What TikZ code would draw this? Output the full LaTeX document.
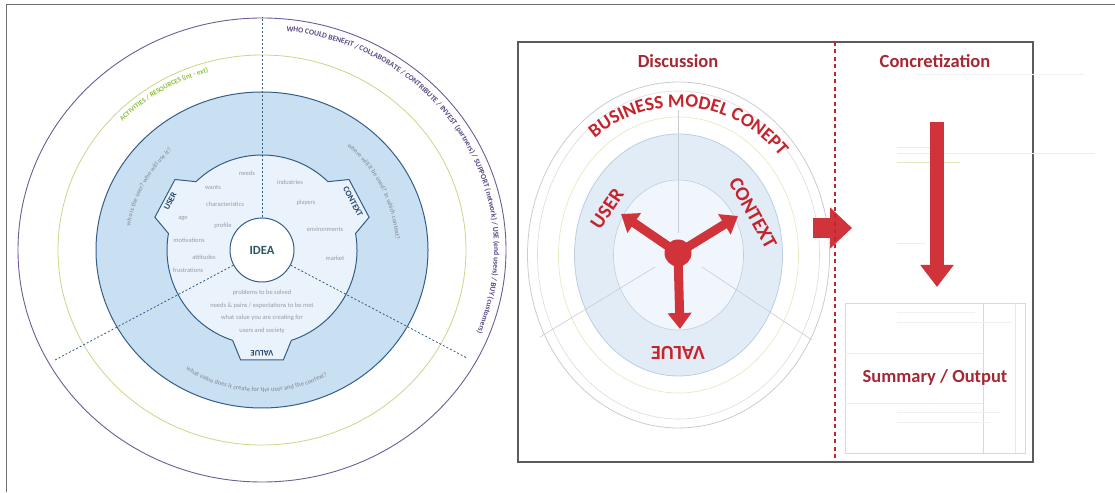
\documentclass[tikz,border=0pt]{standalone}
\usepackage{fontspec}
\setmainfont{Carlito}
\usetikzlibrary{calc,arrows.meta,decorations.text}
\definecolor{bandblue}{RGB}{201,224,243}
\definecolor{blobblue}{RGB}{234,242,251}
\definecolor{ringblue}{RGB}{52,94,135}
\definecolor{lbldark}{RGB}{40,70,110}
\definecolor{purplering}{RGB}{112,92,150}
\definecolor{purpletext}{RGB}{92,72,132}
\definecolor{greenring}{RGB}{200,216,135}
\definecolor{greentext}{RGB}{140,190,60}
\definecolor{wordgray}{RGB}{150,156,166}
\definecolor{arcgray}{RGB}{150,158,172}
\definecolor{ideateal}{RGB}{40,88,100}
\definecolor{framegray}{RGB}{110,110,110}
\definecolor{panelgray}{RGB}{90,90,95}
\definecolor{rgray}{RGB}{200,205,212}
\definecolor{rgreen}{RGB}{225,232,190}
\definecolor{rblue}{RGB}{226,236,247}
\definecolor{rblueborder}{RGB}{188,206,225}
\definecolor{rblob}{RGB}{241,246,252}
\definecolor{bmcred}{RGB}{198,36,44}
\definecolor{arrowred}{RGB}{208,52,58}
\definecolor{headred}{RGB}{165,40,52}
\tikzset{
  dashline/.style={ringblue, line width=0.8pt, dash pattern=on 2pt off 2pt},
  word/.style={font=\fontsize{6.5}{7}\selectfont, text=wordgray, inner sep=0pt},
  smalllbl/.style={font=\fontsize{8.5}{9}\selectfont\bfseries, text=lbldark, inner sep=0pt},
  bigred/.style={font=\fontsize{20}{20}\selectfont\bfseries, text=bmcred, inner sep=0pt},
  headtxt/.style={font=\fontsize{18.5}{20}\selectfont\bfseries, text=headred, inner sep=0pt},
  redarrow/.style={arrowred, line width=9pt, -{Triangle[width=23pt,length=16pt]}},
  faint/.style={gray!15, line width=0.6pt},
}
\begin{document}
\begin{tikzpicture}[x=1pt,y=1pt]
\useasboundingbox (0,0) rectangle (1115,492);
\fill[white] (0,0) rectangle (1115,492);
% outer frame lines
\draw[framegray, line width=1pt] (6,0) -- (6,487) -- (1115,487);

% ================= LEFT CANVAS =================
\coordinate (C) at (262,242);
\draw[purplering, line width=0.9pt] (C) ellipse [x radius=244pt, y radius=232pt];
\draw[greenring, line width=0.8pt] (C) ellipse [x radius=204pt, y radius=195pt];
\filldraw[fill=bandblue, draw=ringblue, line width=1pt] (C) ellipse [x radius=166pt, y radius=158pt];

% ring texts
\path[decorate, decoration={text along path, text={|\fontsize{7.6}{8}\selectfont\bfseries\color{purpletext}|WHO COULD BENEFIT / COLLABORATE / CONTRIBUTE / INVEST (partners) / SUPPORT (network) / USE (end users) / BUY (customers)}}]
  ($(C)+(84:232pt and 220pt)$) arc [start angle=84, end angle=-45, x radius=232pt, y radius=220pt];
\path[decorate, decoration={text along path, text={|\fontsize{7}{7}\selectfont\bfseries\color{greentext}|ACTIVITIES / RESOURCES (int - ext)}}]
  ($(C)+(136:194pt and 185pt)$) arc [start angle=136, end angle=92, x radius=194pt, y radius=185pt];

% gray curved texts in the blue band
\path[decorate, decoration={text along path, text align=center, text={|\fontsize{6.5}{6.5}\selectfont\bfseries\color{arcgray}|who is the user? who will use it?}}]
  ($(C)+(178:134pt)$) arc [start angle=178, end angle=124, radius=134pt];
\path[decorate, decoration={text along path, text align=center, text={|\fontsize{6.5}{6.5}\selectfont\bfseries\color{arcgray}|where will it be used? in which context?}}]
  ($(C)+(66:134pt)$) arc [start angle=66, end angle=-11, radius=134pt];
\path[decorate, decoration={text along path, text align=center, text={|\fontsize{6.5}{6.5}\selectfont\bfseries\color{arcgray}|what value does it create for the user and the context?}}]
  ($(C)+(228:142pt)$) arc [start angle=228, end angle=307, radius=142pt];

% inner blob with three notches
\filldraw[fill=blobblue, draw=ringblue, line width=1pt]
  ($(C)+(10:95pt)$) -- ($(C)+(17:112pt)$) -- ($(C)+(39:112pt)$) -- ($(C)+(46:95pt)$)
  arc [start angle=46, end angle=134, radius=95pt]
  -- ($(C)+(141:112pt)$) -- ($(C)+(163:112pt)$) -- ($(C)+(170:95pt)$)
  arc [start angle=170, end angle=252, radius=95pt]
  -- ($(C)+(259:112pt)$) -- ($(C)+(281:112pt)$) -- ($(C)+(288:95pt)$)
  arc [start angle=288, end angle=370, radius=95pt] -- cycle;

% section words
\node[word] (w1) at (247,319) {needs};
\node[word] (w2) at (213,305) {wants};
\node[word] (w3) at (225,288) {characteristics};
\node[word] (w4) at (183,274) {age};
\node[word] (w5) at (223,266) {profile};
\node[word] (w6) at (189,252) {motivations};
\node[word] (w7) at (204,235) {attitudes};
\node[word] (w8) at (188,222) {frustrations};
\node[word] (c1) at (290,310) {industries};
\node[word] (c2) at (306,289) {players};
\node[word] (c3) at (325,263) {environments};
\node[word] (c4) at (335,234) {market};
\node[word] (v1) at (262,199) {problems to be solved};
\node[word] (v2) at (262,186) {needs \& pains / expectations to be met};
\node[word] (v3) at (262,174) {what value you are creating for};
\node[word] (v4) at (262,161) {users and society};

% notch labels
\node[smalllbl, rotate=62] (userL) at ($(C)+(152:104pt)$) {USER};
\node[smalllbl, rotate=-62] (contextL) at ($(C)+(28:103pt)$) {CONTEXT};
\node[smalllbl, rotate=180] (valueL) at ($(C)+(270:103pt)$) {VALUE};

% IDEA centre and dashed dividers
\node[circle, draw=ringblue, fill=white, line width=1pt, minimum size=64pt, inner sep=0pt,
      font=\fontsize{12.5}{13}\selectfont\bfseries, text=ideateal] (idea) at (C) {IDEA};
\coordinate (dTop) at (262,475);
\coordinate (dLL) at (55,132);
\coordinate (dLR) at (467,134);
\draw[dashline] (idea.north) -- (dTop);
\draw[dashline] (idea.208) -- (dLL);
\draw[dashline] (idea.332) -- (dLR);

% ================= RIGHT PANEL =================
\draw[panelgray, line width=1.5pt] (518,30) rectangle (1033,450);

\coordinate (R) at (678.5,237);
\draw[rgray, line width=0.8pt] (R) ellipse [x radius=151pt, y radius=173pt];
\draw[rgray!70, line width=0.6pt] (R) ellipse [x radius=141pt, y radius=164pt];
\draw[rgreen, line width=0.6pt] (R) ellipse [x radius=120pt, y radius=138pt];
\filldraw[fill=rblue, draw=rblueborder, line width=0.8pt] (R) ellipse [x radius=104pt, y radius=121pt];
\filldraw[fill=rblob, draw=rblueborder, line width=0.6pt] (R) ellipse [x radius=65pt, y radius=75pt];
\coordinate (rlTop1) at (678.5,259);
\coordinate (rlTop2) at (678.5,382);
\coordinate (rlL1) at (655,225);
\coordinate (rlL2) at (540,155);
\coordinate (rlR1) at (702,225);
\coordinate (rlR2) at (812,152);
\draw[rgray, line width=0.6pt] (rlTop1) -- (rlTop2);
\draw[rgray, line width=0.6pt] (rlL1) -- (rlL2);
\draw[rgray, line width=0.6pt] (rlR1) -- (rlR2);

% BUSINESS MODEL CONEPT arc text
\path[decorate, decoration={text along path, text align=center, text={|\fontsize{19}{19}\selectfont\bfseries\color{bmcred}|BUSINESS MODEL CONEPT}}]
  ($(R)+(150:136pt and 148pt)$) arc [start angle=150, end angle=20, x radius=136pt, y radius=148pt];

% red Y arrows
\coordinate (yc) at (678,239);
\coordinate (tipU) at (621,278);
\coordinate (tipC) at (738,276);
\coordinate (tipV) at (680,163);
\draw[redarrow] (yc) -- (tipU);
\draw[redarrow] (yc) -- (tipC);
\draw[redarrow] (yc) -- (tipV);
\node[circle, fill=arrowred, minimum size=27pt, inner sep=0pt] (ydisc) at (yc) {};

\node[bigred, rotate=56] (userR) at (607,283) {USER};
\node[bigred, rotate=-61] (contextR) at (753,279) {CONTEXT};
\node[bigred, rotate=180] (valueR) at (678,139) {VALUE};

% block arrow to concretization
\coordinate (baS) at (813,264);
\coordinate (baE) at (852,264);
\draw[arrowred, line width=20pt, -{Triangle[width=40pt,length=22pt]}] (baS) -- (baE);

% red dashed divider
\coordinate (dsTop) at (835,450);
\coordinate (dsBot) at (835,30);
\draw[bmcred, line width=2pt, dash pattern=on 4pt off 3.5pt] (dsTop) -- (dsBot);

% concretization faint content
\draw[gray!10, line width=0.6pt] (915,418) -- (1085,418);
\draw[faint] (897,339) -- (1095,339);
\draw[rgreen, line width=0.8pt] (897,330) -- (960,330);
\draw[faint] (897,345) -- (930,345);
\draw[faint] (897,249) -- (925,249);

% down arrow
\coordinate (daS) at (937,370);
\coordinate (daE) at (937,205);
\draw[arrowred, line width=14pt, -{Triangle[width=32pt,length=22pt]}] (daS) -- (daE);

% summary box
\draw[gray!30, line width=0.7pt] (845,39) rectangle (1025,189);
\draw[gray!30, line width=0.7pt] (983,39) -- (983,189);
\draw[gray!18, line width=0.6pt] (1015,39) -- (1015,189);
\draw[faint] (845,139) -- (983,139);
\draw[faint] (845,89) -- (983,89);
\draw[gray!12, line width=0.8pt] (897,180) -- (975,180);
\draw[gray!12, line width=0.8pt] (897,170) -- (1012,170);
\draw[gray!12, line width=0.8pt] (897,80) -- (1000,80);
\draw[gray!12, line width=0.8pt] (897,70) -- (990,70);

% headings
\node[headtxt] (discH) at (678,431) {Discussion};
\node[headtxt] (concH) at (935,431) {Concretization};
\node[headtxt] (summH) at (935,115) {Summary / Output};
\end{tikzpicture}
\end{document}
